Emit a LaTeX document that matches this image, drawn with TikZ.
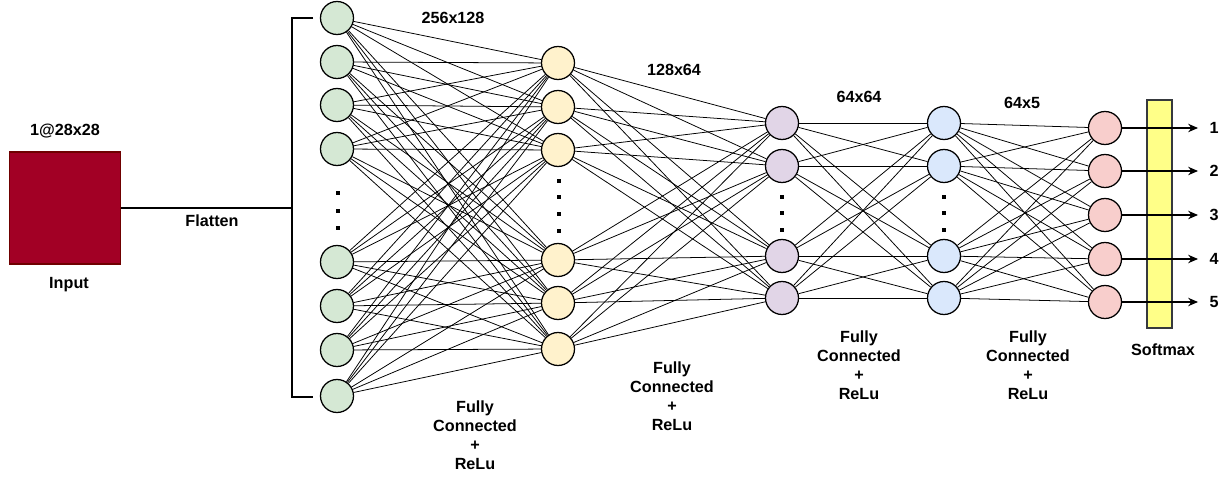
\documentclass[tikz,border=0pt]{standalone}
\usepackage{fontspec}
\setmainfont{Liberation Sans}
\usetikzlibrary{arrows.meta}
\definecolor{inputred}{HTML}{A20025}
\definecolor{inputdark}{HTML}{6F0000}
\definecolor{greenfill}{HTML}{D5E8D4}
\definecolor{yellowfill}{HTML}{FFF2CC}
\definecolor{purplefill}{HTML}{E1D5E7}
\definecolor{bluefill}{HTML}{DAE8FC}
\definecolor{pinkfill}{HTML}{F8CECC}
\definecolor{softfill}{HTML}{FFFF88}
\definecolor{softdraw}{HTML}{36393D}
\begin{document}
\begin{tikzpicture}[x=0.025cm, y=-0.025cm,
  main/.style = {draw, circle, minimum size=0.825cm, inner sep=0pt, line width=0.9pt},
  edge/.style = {line width=0.55pt},
  lbl/.style = {font=\fontsize{11.5}{13.5}\selectfont\bfseries, align=center}]
  \useasboundingbox (0,0) rectangle (1228,478);
  % input image
  \node[draw=inputdark, fill=inputred, line width=1pt, minimum width=2.775cm, minimum height=2.8cm, inner sep=0pt] (input) at (65,208) {};
  \node[lbl] (insize) at (65,131) {1@28x28};
  \node[lbl] (inname) at (69,285) {Input};
  % flatten bracket
  \coordinate (bt) at (313,18);
  \coordinate (bb) at (313,397);
  \coordinate (bm) at (292,208);
  \draw[line width=0.9pt] (bt) -- (292,18) -- (292,397) -- (bb);
  \draw[line width=0.9pt] (input) -- (bm);
  \node[lbl] (flat) at (212,221) {Flatten};
  % layers
  \foreach \y [count=\i] in {18,62,105,149,262,306,350,396}
    \node[main, fill=greenfill] (g\i) at (337,\y) {};
  \foreach \y [count=\i] in {63,107,150,260,303,349}
    \node[main, fill=yellowfill] (y\i) at (558,\y) {};
  \foreach \y [count=\i] in {123,166,256,298}
    \node[main, fill=purplefill] (p\i) at (782,\y) {};
  \foreach \y [count=\i] in {123,166,256,298}
    \node[main, fill=bluefill] (b\i) at (944,\y) {};
  \foreach \y [count=\i] in {128,171,215,259,302}
    \node[main, fill=pinkfill] (r\i) at (1105,\y) {};
  % dots
  \foreach \y in {193,211,228} \fill (336,\y-2) rectangle (340,\y+2);
  \foreach \y in {181,197,214,231} \fill (557,\y-2) rectangle (561,\y+2);
  \foreach \y in {197,213,230} {
    \fill (780,\y-2) rectangle (784,\y+2);
    \fill (942,\y-2) rectangle (946,\y+2);
  }
  % connections
  \foreach \i in {1,...,8} \foreach \j in {1,...,6} \draw[edge] (g\i) -- (y\j);
  \foreach \i in {1,...,6} \foreach \j in {1,...,4} \draw[edge] (y\i) -- (p\j);
  \foreach \i in {1,...,4} \foreach \j in {1,...,4} \draw[edge] (p\i) -- (b\j);
  \foreach \i in {1,...,4} \foreach \j in {1,...,5} \draw[edge] (b\i) -- (r\j);
  % softmax and outputs
  \node[draw=softdraw, fill=softfill, line width=0.8pt, minimum width=0.625cm, minimum height=5.7cm, inner sep=0pt] (soft) at (1159.5,214) {};
  \node[lbl] (softname) at (1163,350) {Softmax};
  \foreach \y [count=\i] in {128,171,215,259,302} {
    \coordinate (o\i) at (1198,\y);
    \draw[line width=0.9pt, -{Stealth[length=7pt, width=6pt]}] (r\i) -- (o\i);
    \node[lbl] (n\i) at (1214,\y) {\i};
  }
  % labels
  \node[lbl] (w1) at (453,18) {256x128};
  \node[lbl] (w2) at (674,70) {128x64};
  \node[lbl] (w3) at (859,97) {64x64};
  \node[lbl] (w4) at (1022,103) {64x5};
  \node[lbl] (fc1) at (475,435.5) {Fully\\Connected\\+\\ReLu};
  \node[lbl] (fc2) at (672,396) {Fully\\Connected\\+\\ReLu};
  \node[lbl] (fc3) at (859,365.5) {Fully\\Connected\\+\\ReLu};
  \node[lbl] (fc4) at (1028,365.5) {Fully\\Connected\\+\\ReLu};
\end{tikzpicture}
\end{document}
